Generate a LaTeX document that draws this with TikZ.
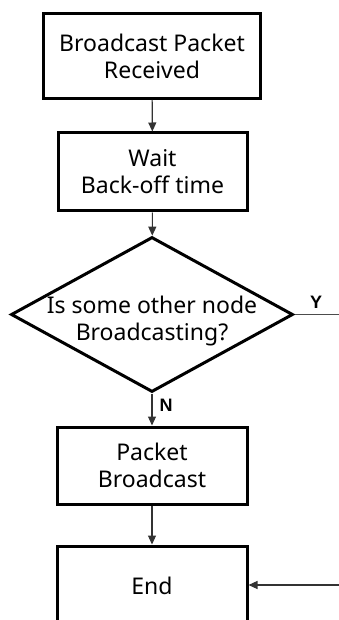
\documentclass[tikz,border=0pt]{standalone}
\usepackage{fontspec}
\setmainfont{Noto Sans}
\newfontfamily\tagfont{Liberation Sans}
\usetikzlibrary{shapes.geometric,arrows.meta}

\tikzset{
  stepbox/.style={draw=black, line width=3pt, rectangle, align=center,
    inner sep=0pt, font=\fontsize{23}{27}\selectfont},
  decision/.style={draw=black, line width=3pt, diamond,
    inner sep=0pt, minimum width=282pt, minimum height=155pt},
  question/.style={align=center, inner sep=0pt,
    font=\fontsize{23}{27}\selectfont},
  flow/.style={draw=black!80, line width=1.1pt,
    -{Triangle[length=9pt,width=8pt]}},
  plain/.style={draw=black!70, line width=1.1pt},
  tag/.style={font=\tagfont\bfseries\fontsize{18}{18}\selectfont, inner sep=0pt}
}

\begin{document}
\begin{tikzpicture}[x=1pt,y=-1pt]
  \useasboundingbox (0,0) rectangle (339,620);
  \clip (0,0) rectangle (339,620);

  % process steps
  \node[stepbox, minimum width=217pt, minimum height=85pt] (recv) at (152,56)
    {Broadcast Packet\\Received};
  \node[stepbox, minimum width=189pt, minimum height=78pt] (wait) at (152.5,172)
    {Wait\\Back-off time};
  \node[decision] (busy) at (152,314.5) {};
  \node[question] (busytext) at ([yshift=-7pt]busy.center)
    {Is some other node\\Broadcasting?};
  \node[stepbox, minimum width=190pt, minimum height=77pt] (send) at (152,465.5)
    {Packet\\Broadcast};
  \node[stepbox, minimum width=190pt, minimum height=80pt] (done) at (152,586)
    {End};

  % loose ends of the Y branch
  \coordinate (yend) at (345,314.5);
  \coordinate (yin) at (345,585);

  % connectors
  \draw[flow] (recv) -- (wait);
  \draw[flow] (wait) -- (busy);
  \draw[flow] (busy) -- (send);
  \draw[flow] (send) -- (done);
  \draw[plain] (busy.east) -- (yend);
  \draw[flow] (yin) -- (done.east |- yin);

  % branch labels
  \node[tag] (ylab) at (316,302) {Y};
  \node[tag] (nlab) at (166,405) {N};
\end{tikzpicture}
\end{document}
